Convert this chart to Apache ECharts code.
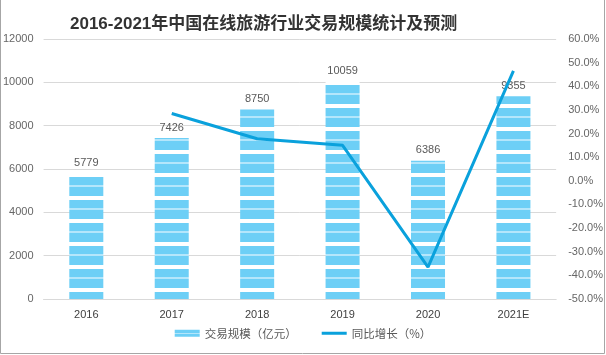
<!DOCTYPE html>
<html><head><meta charset="utf-8">
<script src="https://cdn.jsdelivr.net/npm/echarts@6/dist/echarts.min.js"></script>
<style>html,body{margin:0;padding:0;background:#fff}#c{width:606px;height:355px}</style>
</head><body><div id="c"></div>
<script>
const categories = ['2016','2017','2018','2019','2020','2021E'];
const scaleValues = [5779, 7426, 8750, 10059, 6386, 9355];
const growthValues = [null, 28.5, 17.8, 15.0, -36.5, 46.5];
const leftTicks = {min: 0, max: 12000, interval: 2000};
const rightTicks = {min: -50, max: 60, interval: 10};

const BLUE = '#6dcff6', LIGHT = '#b4e6fb', LINE = '#0aa1dc';

// striped pattern (period 23px, anchored to canvas)
const pc = document.createElement('canvas');
pc.width = 4; pc.height = 23;
const pctx = pc.getContext('2d');
for (let r = 0; r < 23; r++) {
  const d = (r - 16 + 23) % 23;
  let col;
  if (d < 8) col = BLUE; else if (d < 10) col = LIGHT; else if (d < 19) col = BLUE; else col = '#ffffff';
  pctx.fillStyle = col; pctx.fillRect(0, r, 4, 1);
}

const chart = echarts.init(document.getElementById('c'), null, {renderer: 'canvas'});
chart.setOption({
  animation: false,
  backgroundColor: '#fff',
  title: {
    text: '2016-2021年中国在线旅游行业交易规模统计及预测',
    left: 65, top: 11,
    textStyle: {fontSize: 17, fontWeight: 'bold', color: '#333', fontFamily: 'Liberation Sans, Noto Sans CJK SC'}
  },
  grid: {left: 43, right: 48, top: 39, bottom: 56},
  legend: {
    bottom: 11, left: 'center',
    itemWidth: 25, itemHeight: 7, itemGap: 25,
    textStyle: {fontSize: 11.5, color: '#595959', fontFamily: 'Noto Sans CJK SC'},
    data: [
      {name: '交易规模（亿元）', icon: 'rect', itemStyle: {color: {type: 'linear', x: 0, y: 0, x2: 0, y2: 1, colorStops: [
        {offset: 0, color: BLUE}, {offset: 0.4, color: BLUE}, {offset: 0.4, color: LIGHT}, {offset: 0.6, color: LIGHT}, {offset: 0.6, color: BLUE}, {offset: 1, color: BLUE}]}}},
      {name: '同比增长（%）', icon: 'path://M0,0h0.01v0.01h-0.01z M0,2h25v3h-25z M24.99,6.99h0.01v0.01h-0.01z',
       itemStyle: {color: LINE, borderWidth: 0}}
    ]
  },
  xAxis: {
    type: 'category', data: categories,
    axisLine: {lineStyle: {color: '#d9d9d9'}},
    axisTick: {show: false},
    axisLabel: {color: '#404040', fontSize: 11, margin: 10, fontFamily: 'Liberation Sans'}
  },
  yAxis: [
    {type: 'value', min: leftTicks.min, max: leftTicks.max, interval: leftTicks.interval,
     axisLine: {show: false}, axisTick: {show: false},
     axisLabel: {color: '#666', fontSize: 11, margin: 10, fontFamily: 'Liberation Sans', formatter: v => String(v)},
     splitLine: {lineStyle: {color: '#d9d9d9'}}},
    {type: 'value', min: rightTicks.min, max: rightTicks.max, interval: rightTicks.interval,
     position: 'right',
     axisLine: {show: false}, axisTick: {show: false}, splitLine: {show: false},
     axisLabel: {color: '#666', fontSize: 11, margin: 12, align: 'left', fontFamily: 'Liberation Sans',
       formatter: v => v.toFixed(1) + '%'}}
  ],
  series: [
    {name: '交易规模（亿元）', type: 'bar', data: scaleValues, barWidth: 34,
     itemStyle: {color: {image: pc, repeat: 'repeat'}},
     label: {show: true, position: 'top', distance: 5, color: '#595959', fontSize: 11, fontFamily: 'Liberation Sans'}},
    {name: '同比增长（%）', type: 'line', yAxisIndex: 1, data: growthValues,
     symbol: 'none', lineStyle: {width: 3, color: LINE}, itemStyle: {color: LINE}}
  ],
  graphic: [{type: 'rect', z: 100, silent: true,
    shape: {x: 0.5, y: -5, width: 604, height: 358.5},
    style: {fill: null, stroke: '#a6a6a6', lineWidth: 1}}]
});
</script></body></html>
